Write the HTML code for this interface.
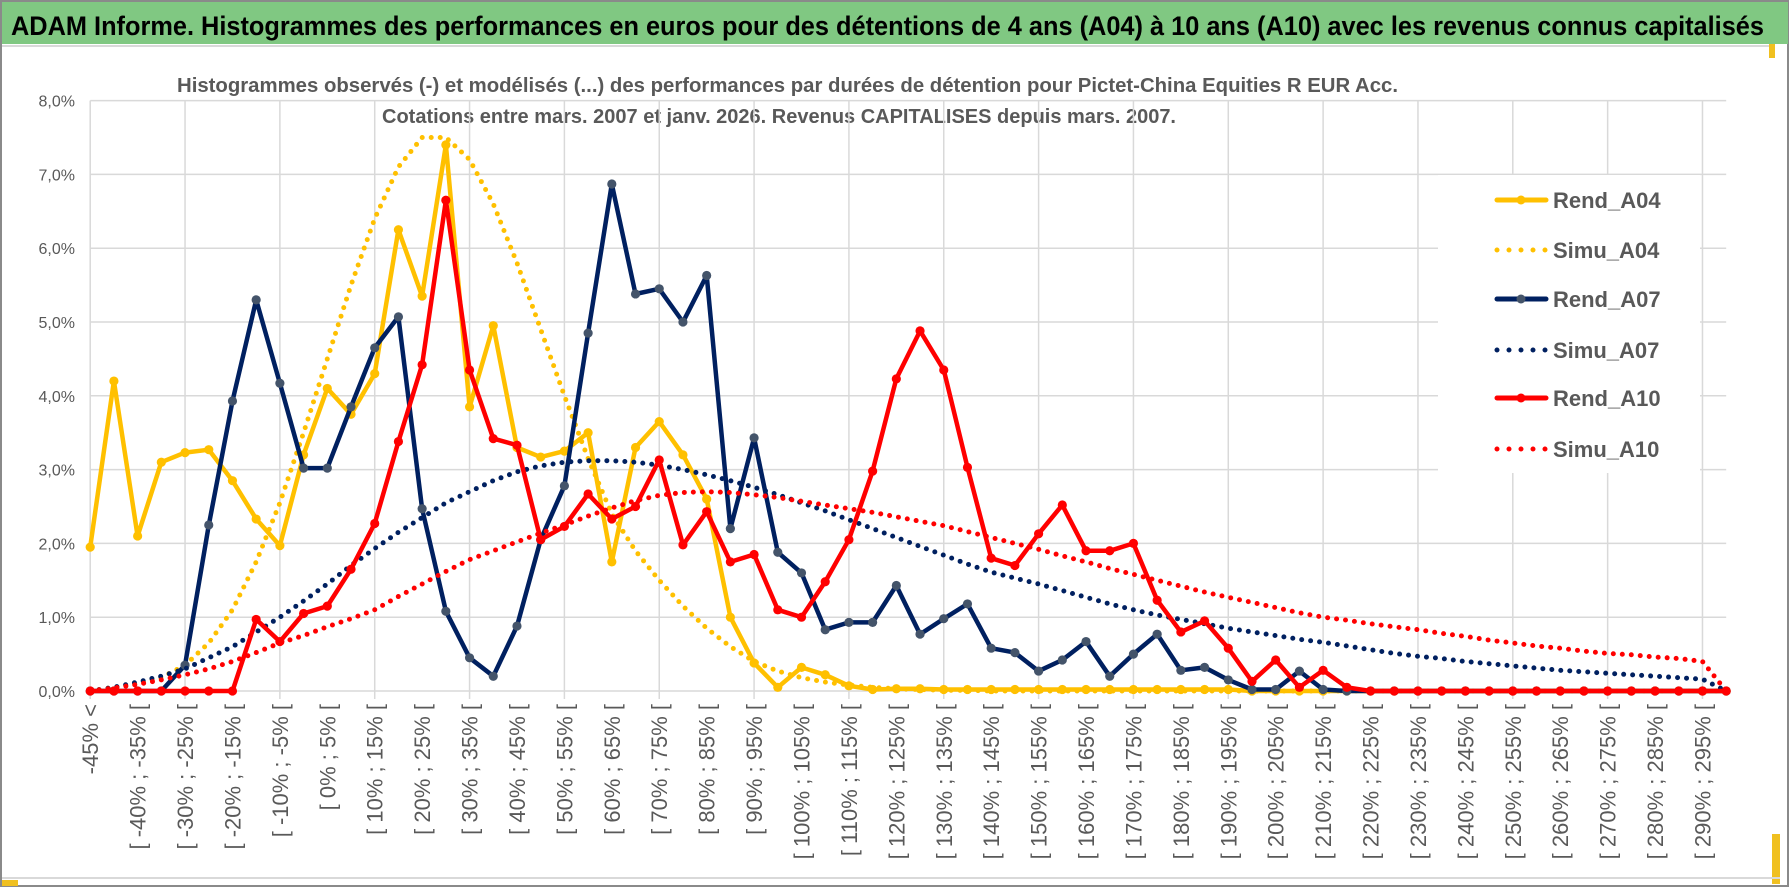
<!DOCTYPE html>
<html><head><meta charset="utf-8"><style>
html,body{margin:0;padding:0;background:#fff;}
svg{display:block;font-family:"Liberation Sans",sans-serif;}
</style></head><body>
<svg id="chart" width="1790" height="888" viewBox="0 0 1790 888">
<rect x="0" y="0" width="1790" height="888" fill="#fff"/>
<rect x="1" y="1" width="1787" height="885" fill="none" stroke="#8a8a8a" stroke-width="2"/>
<rect x="2" y="2" width="1786" height="42" fill="#80c882"/>
<line x1="2" y1="46" x2="1770" y2="46" stroke="#d9d9d9" stroke-width="2"/>
<rect x="1769" y="44" width="6" height="14" fill="#f0c020"/>
<rect x="2" y="880" width="16" height="6" fill="#f0c020"/>
<rect x="1772" y="834" width="8" height="50" fill="#f0c020"/>
<line x1="2" y1="878" x2="1780" y2="878" stroke="#d9d9d9" stroke-width="2"/>
<text x="11" y="35" font-size="27" font-weight="bold" fill="#000" textLength="1753" lengthAdjust="spacingAndGlyphs">ADAM Informe. Histogrammes des performances en euros pour des détentions de 4 ans (A04) à 10 ans (A10) avec les revenus connus capitalisés</text>
<text x="177" y="92" font-size="20" font-weight="bold" fill="#595959" textLength="1221" lengthAdjust="spacingAndGlyphs">Histogrammes observés (-) et modélisés (...) des performances par durées de détention pour Pictet-China Equities R EUR Acc.</text>
<text x="382" y="123" font-size="20" font-weight="bold" fill="#595959" textLength="794" lengthAdjust="spacingAndGlyphs">Cotations entre mars. 2007 et janv. 2026. Revenus CAPITALISES depuis mars. 2007.</text>
<g id="grid"></g>
<g id="axes"></g>
<g id="series"></g>
<g id="legend"></g>
</svg>
<script>
const categories = (function(){const c=["-45% <"];for(let k=1;k<70;k++){const lo=-50+5*k;c.push("[ "+lo+"% ; "+(lo+5)+"% [");}return c;})();
const yTicks = [0,1,2,3,4,5,6,7,8];
const yTickLabels = ["0,0%","1,0%","2,0%","3,0%","4,0%","5,0%","6,0%","7,0%","8,0%"];
const rendA04 = [1.95,4.2,2.1,3.1,3.23,3.27,2.85,2.33,1.97,3.2,4.1,3.75,4.3,6.25,5.35,7.4,3.85,4.95,3.3,3.17,3.25,3.5,1.75,3.3,3.65,3.2,2.6,1.0,0.38,0.05,0.32,0.22,0.07,0.02,0.03,0.03,0.02,0.02,0.02,0.02,0.02,0.02,0.02,0.02,0.02,0.02,0.02,0.02,0.02,0,0,0,0,0,0,0,0,0,0,0,0,0,0,0,0,0,0,0,0,0];
const simuA04 = [0,0.05,0.1,0.18,0.35,0.65,1.1,1.75,2.55,3.5,4.5,5.5,6.4,7.1,7.5,7.5,7.2,6.6,5.8,4.9,4.0,3.15,2.4,1.9,1.5,1.15,0.85,0.6,0.4,0.27,0.18,0.12,0.08,0.05,0.03,0.02,0.01,0.01,0,0,0,0,0,0,0,0,0,0,0,0,0,0,0,0,0,0,0,0,0,0,0,0,0,0,0,0,0,0,0,0];
const rendA07 = [0,0,0,0,0.35,2.25,3.93,5.3,4.17,3.02,3.02,3.85,4.65,5.07,2.47,1.08,0.45,0.2,0.88,2.05,2.78,4.85,6.87,5.38,5.45,5.0,5.63,2.2,3.43,1.88,1.6,0.83,0.93,0.93,1.43,0.77,0.98,1.18,0.58,0.52,0.27,0.42,0.67,0.2,0.5,0.77,0.28,0.32,0.15,0.02,0.02,0.27,0.02,0,0,0,0,0,0,0,0,0,0,0,0,0,0,0,0,0];
const simuA07 = [0,0.05,0.12,0.2,0.3,0.45,0.6,0.8,1.0,1.22,1.45,1.7,1.93,2.15,2.35,2.55,2.7,2.85,2.97,3.05,3.1,3.12,3.12,3.1,3.06,3.0,2.93,2.85,2.76,2.66,2.55,2.44,2.32,2.2,2.08,1.96,1.84,1.72,1.61,1.53,1.45,1.36,1.27,1.18,1.1,1.03,0.97,0.91,0.85,0.8,0.75,0.7,0.66,0.61,0.56,0.51,0.47,0.44,0.4,0.37,0.34,0.31,0.28,0.26,0.24,0.22,0.2,0.18,0.16,0];
const rendA10 = [0,0,0,0,0,0,0,0.97,0.67,1.05,1.15,1.65,2.27,3.38,4.42,6.65,4.35,3.42,3.33,2.05,2.23,2.67,2.33,2.5,3.13,1.98,2.43,1.75,1.85,1.1,1.0,1.48,2.05,2.98,4.23,4.88,4.35,3.03,1.8,1.7,2.13,2.52,1.9,1.9,2.0,1.23,0.8,0.95,0.58,0.13,0.42,0.05,0.28,0.05,0,0,0,0,0,0,0,0,0,0,0,0,0,0,0,0];
const simuA10 = [0,0.04,0.09,0.15,0.22,0.3,0.4,0.52,0.65,0.75,0.87,0.98,1.1,1.28,1.45,1.62,1.78,1.9,2.02,2.14,2.25,2.37,2.48,2.58,2.65,2.69,2.7,2.69,2.66,2.62,2.57,2.52,2.47,2.42,2.36,2.3,2.24,2.16,2.08,2.0,1.92,1.83,1.75,1.66,1.58,1.5,1.42,1.34,1.27,1.2,1.13,1.06,1.0,0.96,0.91,0.87,0.83,0.78,0.74,0.69,0.65,0.61,0.58,0.54,0.51,0.49,0.46,0.44,0.4,0];
const seriesNames = ["Rend_A04","Simu_A04","Rend_A07","Simu_A07","Rend_A10","Simu_A10"];

const NS="http://www.w3.org/2000/svg";
const X0=90.2, STEP=23.71, Y0=691, YPX=73.8;
function xPos(i){return X0+i*STEP;}
function yPos(v){return Y0-v*YPX;}
function mk(tag,attrs,parent){const e=document.createElementNS(NS,tag);for(const k in attrs)e.setAttribute(k,attrs[k]);parent.appendChild(e);return e;}

const grid=document.getElementById('grid');
const axes=document.getElementById('axes');
const xEnd=xPos(categories.length-1);
yTicks.forEach((t,i)=>{
  const l=mk('line',{x1:X0,x2:xEnd,y1:yPos(t),y2:yPos(t),stroke:'#d9d9d9','stroke-width':1.5},grid);
  
  
  const tx=mk('text',{x:75,y:yPos(t)+6,'text-anchor':'end','font-size':16,fill:'#595959'},axes);
  tx.textContent=yTickLabels[i];
  
  
});
for(let i=0;i<categories.length;i+=4){
  const l=mk('line',{x1:xPos(i),x2:xPos(i),y1:yPos(8),y2:Y0+8,stroke:'#d9d9d9','stroke-width':1.5},grid);
  
  
}
categories.forEach((c,i)=>{
  if(i%2!==0)return;
  const x=xPos(i)+8, y=704;
  const tx=mk('text',{x:x,y:y,'text-anchor':'end','font-size':22,fill:'#595959',transform:'rotate(-90 '+x+' '+y+')'},axes);
  tx.textContent=c;
  
  
});

const S=document.getElementById('series');
function drawRend(data,color,mcolor,name){
  const g=mk('g',{},S);
  
  
  const pts=data.map((v,i)=>xPos(i).toFixed(1)+','+yPos(v).toFixed(1)).join(' ');
  const pl=mk('polyline',{points:pts,fill:'none',stroke:color,'stroke-width':4.5,'stroke-linejoin':'round'},g);
  
  
  data.forEach((v,i)=>{
    const c=mk('circle',{cx:xPos(i),cy:yPos(v),r:4.6,fill:mcolor},g);
    
    
  });
}
function drawSimu(data,color,name){
  const pts=data.map((v,i)=>xPos(i).toFixed(1)+','+yPos(v).toFixed(1)).join(' ');
  const pl=mk('polyline',{points:pts,fill:'none',stroke:color,'stroke-width':5,'stroke-linecap':'round','stroke-dasharray':'0 9'},S);
  
  
}
drawRend(rendA04,'#ffc000','#ffc000','rend-a04');
drawSimu(simuA04,'#ffc000','simu-a04');
drawRend(rendA07,'#002060','#44546a','rend-a07');
drawSimu(simuA07,'#002060','simu-a07');
drawRend(rendA10,'#ff0000','#ff0000','rend-a10');
drawSimu(simuA10,'#ff0000','simu-a10');

const L=document.getElementById('legend');
const bg=mk('rect',{x:1438,y:175,width:262,height:298,fill:'#fff'},L);


const legColors=['#ffc000','#ffc000','#002060','#002060','#ff0000','#ff0000'];
const legMarker=['#ffc000',null,'#44546a',null,'#ff0000',null];
const legY=[200,250,299,350,398,449];
seriesNames.forEach((n,i)=>{
  const g=mk('g',{},L);
  
  
  const y=legY[i];
  if(legMarker[i]){
    mk('line',{x1:1497,x2:1546,y1:y,y2:y,stroke:legColors[i],'stroke-width':5,'stroke-linecap':'round'},g);
    mk('circle',{cx:1521,cy:y,r:4.5,fill:legMarker[i]},g);
  } else {
    mk('line',{x1:1497,x2:1546,y1:y,y2:y,stroke:legColors[i],'stroke-width':5,'stroke-linecap':'round','stroke-dasharray':'0 12'},g);
  }
  const t=mk('text',{x:1553,y:y+8,'font-size':22,'font-weight':'bold',fill:'#595959'},g);
  t.textContent=n;
});
</script>
</body></html>
